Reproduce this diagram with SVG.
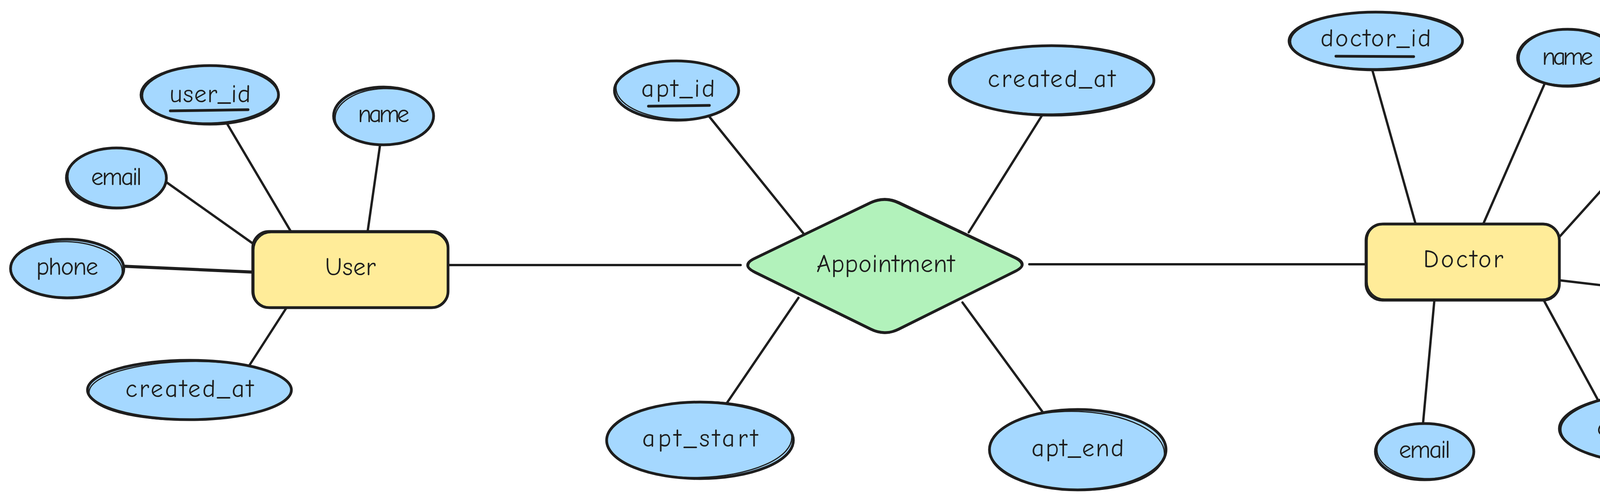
<svg xmlns="http://www.w3.org/2000/svg" width="4804" height="1286" viewBox="0 0 4804 1286">
<style>
.attr{fill:#a5d8ff;stroke:#1e1e1e;stroke-width:7}
.ent{fill:#ffec99;stroke:#1e1e1e;stroke-width:7}
.rel{fill:#b2f2bb;stroke:#1e1e1e;stroke-width:7}
.sk{fill:none;stroke:#1e1e1e;stroke-width:3}
.con{stroke:#1e1e1e;stroke-width:6;fill:none;stroke-linecap:round}
.ul{stroke:#1e1e1e;stroke-width:7;stroke-linecap:round}
text{font-family:"Comic Neue","Liberation Sans","DejaVu Sans",sans-serif;font-size:64px;fill:#1e1e1e;text-anchor:middle}
</style>
<rect width="4804" height="1286" fill="#ffffff"/>
<g id="connectors">
<line class="con" x1="582" y1="318" x2="744" y2="592"/>
<line class="con" x1="973" y1="371" x2="941" y2="594"/>
<line class="con" x1="425" y1="466" x2="649" y2="625"/>
<line class="con" x1="316" y1="682" x2="647" y2="697" style="stroke-width:8"/>
<line class="con" x1="639" y1="935" x2="733" y2="789"/>
<line class="con" x1="1148" y1="679" x2="1896" y2="679"/>
<line class="con" x1="1816" y1="299" x2="2056" y2="597"/>
<line class="con" x1="2668" y1="295" x2="2480" y2="595"/>
<line class="con" x1="2044" y1="763" x2="1857" y2="1038"/>
<line class="con" x1="2464" y1="775" x2="2671" y2="1058"/>
<line class="con" x1="2635" y1="677" x2="3497" y2="677"/>
<line class="con" x1="3513" y1="179" x2="3624" y2="574"/>
<line class="con" x1="3954" y1="215" x2="3797" y2="574"/>
<line class="con" x1="4180" y1="398" x2="3992" y2="607"/>
<line class="con" x1="3992" y1="718" x2="4247" y2="748"/>
<line class="con" x1="3952" y1="769" x2="4091" y2="1025"/>
<line class="con" x1="3672" y1="769" x2="3643" y2="1084"/>
</g>
<g id="user">
<rect class="ent" x="647" y="593" width="500" height="195" rx="42"/>
<rect class="sk" x="650" y="596" width="496" height="194" rx="44"/>
<text x="897" y="705" textLength="130">User</text>
</g>
<g id="user_id">
<ellipse class="attr" cx="537" cy="243" rx="176" ry="75"/>
<ellipse class="sk" cx="539" cy="241" rx="174" ry="74" transform="rotate(-1.5 539 241)"/>
<text x="538" y="262" textLength="208">user_id</text>
<line class="ul" x1="436" y1="284" x2="635" y2="281"/>
</g>
<g id="user_name">
<ellipse class="attr" cx="982" cy="297" rx="128" ry="74"/>
<ellipse class="sk" cx="984" cy="299" rx="126" ry="72" transform="rotate(-2 984 299)"/>
<text x="982" y="313" textLength="132">name</text>
</g>
<g id="user_email">
<ellipse class="attr" cx="298" cy="456" rx="128" ry="77"/>
<ellipse class="sk" cx="300" cy="455" rx="126" ry="76" transform="rotate(2 300 455)"/>
<text x="298" y="474" textLength="130">email</text>
</g>
<g id="user_phone">
<ellipse class="attr" cx="172" cy="688" rx="145" ry="75"/>
<ellipse class="sk" cx="170" cy="692" rx="143" ry="73" transform="rotate(1.5 170 692)"/>
<text x="172" y="704" textLength="159">phone</text>
</g>
<g id="user_created_at">
<ellipse class="attr" cx="485" cy="999" rx="261" ry="76"/>
<ellipse class="sk" cx="487" cy="1001" rx="259" ry="75" transform="rotate(-1 487 1001)"/>
<text x="485" y="1017" textLength="328">created_at</text>
</g>
<g id="appointment">
<path class="rel" d="M1932,662 L2229,519 Q2265,502 2301,519 L2599,660 Q2635,677 2599,695 L2301,843 Q2265,861 2229,843 L1932,697 Q1896,679 1932,662 Z"/>
<path class="sk" d="M1935,660 L2230,521 Q2266,505 2300,522 L2597,662 Q2632,679 2597,697 L2300,846 Q2264,863 2228,845 L1933,700 Q1899,681 1935,660 Z"/>
<text x="2267" y="697" textLength="354">Appointment</text>
</g>
<g id="apt_id">
<ellipse class="attr" cx="1732" cy="232" rx="159" ry="76"/>
<ellipse class="sk" cx="1734" cy="230" rx="157" ry="75" transform="rotate(2 1734 230)"/>
<text x="1736" y="248" textLength="189">apt_id</text>
<line class="ul" x1="1660" y1="272" x2="1816" y2="270"/>
</g>
<g id="apt_created_at">
<ellipse class="attr" cx="2692" cy="206" rx="262" ry="89"/>
<ellipse class="sk" cx="2694" cy="204" rx="260" ry="88" transform="rotate(-1 2694 204)"/>
<text x="2692" y="223" textLength="327">created_at</text>
</g>
<g id="apt_start">
<ellipse class="attr" cx="1792" cy="1128" rx="239" ry="98"/>
<ellipse class="sk" cx="1790" cy="1126" rx="237" ry="97" transform="rotate(-1.5 1790 1126)"/>
<text x="1792" y="1144" textLength="296">apt_start</text>
</g>
<g id="apt_end">
<ellipse class="attr" cx="2759" cy="1152" rx="226" ry="103"/>
<ellipse class="sk" cx="2757" cy="1155" rx="224" ry="101" transform="rotate(2 2757 1155)"/>
<text x="2759" y="1169" textLength="237">apt_end</text>
</g>
<g id="doctor">
<rect class="ent" x="3497" y="574" width="495" height="195" rx="42"/>
<rect class="sk" x="3500" y="572" width="492" height="194" rx="44"/>
<text x="3746" y="685" textLength="205">Doctor</text>
</g>
<g id="doctor_id">
<ellipse class="attr" cx="3522" cy="105" rx="222" ry="74"/>
<ellipse class="sk" cx="3524" cy="103" rx="220" ry="73" transform="rotate(-1 3524 103)"/>
<text x="3522" y="119" textLength="283">doctor_id</text>
<line class="ul" x1="3420" y1="144" x2="3619" y2="145"/>
</g>
<g id="doctor_name">
<ellipse class="attr" cx="4013" cy="148" rx="128" ry="73"/>
<ellipse class="sk" cx="4015" cy="146" rx="126" ry="72" transform="rotate(-2 4015 146)"/>
<text x="4013" y="166" textLength="131">name</text>
</g>
<g id="specialization">
<ellipse class="attr" cx="4477" cy="386" rx="299" ry="108"/>
<ellipse class="sk" cx="4475" cy="389" rx="297" ry="106" transform="rotate(1 4475 389)"/>
<text x="4475" y="402" textLength="384">specialization</text>
</g>
<g id="doctor_phone">
<ellipse class="attr" cx="4390" cy="761" rx="145" ry="74"/>
<ellipse class="sk" cx="4392" cy="759" rx="143" ry="73" transform="rotate(-1.5 4392 759)"/>
<text x="4390" y="779" textLength="163">phone</text>
</g>
<g id="doctor_created_at">
<ellipse class="attr" cx="4250" cy="1098" rx="258" ry="91"/>
<ellipse class="sk" cx="4252" cy="1096" rx="256" ry="90" transform="rotate(-1 4252 1096)"/>
<text x="4250" y="1116" textLength="324">created_at</text>
</g>
<g id="doctor_email">
<ellipse class="attr" cx="3647" cy="1157" rx="126" ry="72"/>
<ellipse class="sk" cx="3649" cy="1155" rx="124" ry="71" transform="rotate(2 3649 1155)"/>
<text x="3647" y="1173" textLength="132">email</text>
</g>
</svg>
